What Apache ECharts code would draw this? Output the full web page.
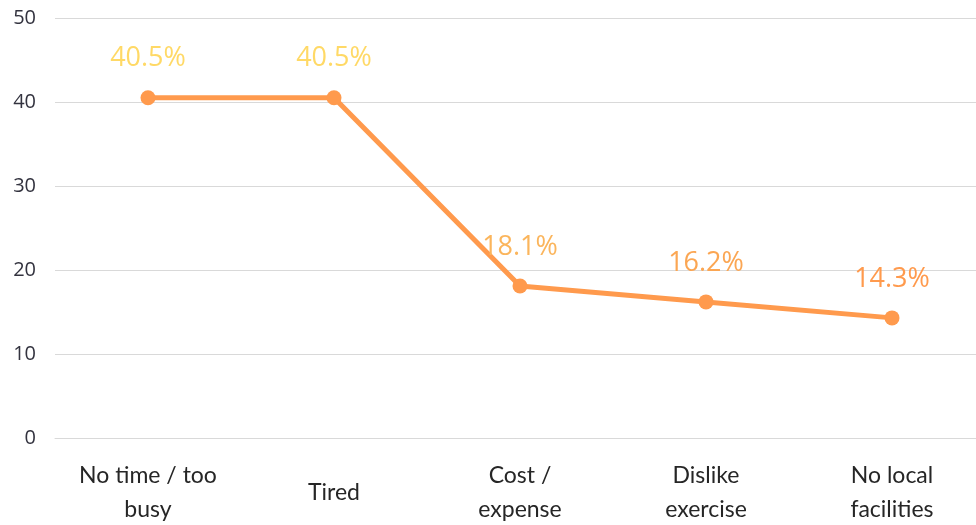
<!DOCTYPE html>
<html>
<head>
<meta charset="utf-8">
<script src="https://cdn.jsdelivr.net/npm/echarts@6/dist/echarts.min.js"></script>
<style>html,body{margin:0;padding:0;background:#fff}#c{width:976px;height:525px}</style>
</head>
<body>
<div id="c"></div>
<script>
const categories = ['No time / too\nbusy', 'Tired', 'Cost /\nexpense', 'Dislike\nexercise', 'No local\nfacilities'];
const values = [40.5, 40.5, 18.1, 16.2, 14.3];
const labelColors = ['#FFD966', '#FFD966', '#FBB55C', '#FBA653', '#FF9A4D'];
const yTicks = { min: 0, max: 50, interval: 10 };

const chart = echarts.init(document.getElementById('c'), null, { renderer: 'canvas' });
chart.setOption({
  backgroundColor: '#ffffff',
  animation: false,
  grid: { left: 55, width: 930, top: 18, height: 420, containLabel: false, outerBoundsMode: 'none' },
  xAxis: {
    type: 'category',
    data: categories,
    boundaryGap: true,
    axisLine: { show: true, lineStyle: { color: '#d9d9d9', width: 1 } },
    axisTick: { show: false },
    axisLabel: {
      interval: 0, color: '#262626', fontSize: 23,
      fontFamily: 'Lato, "Open Sans", sans-serif',
      lineHeight: 34, verticalAlign: 'middle', margin: 55
    }
  },
  yAxis: {
    type: 'value', min: yTicks.min, max: yTicks.max, interval: yTicks.interval,
    axisLine: { show: false }, axisTick: { show: false },
    splitLine: { lineStyle: { color: '#d9d9d9', width: 1 } },
    axisLabel: { color: '#33333f', fontSize: 20, fontFamily: '"Open Sans", sans-serif', margin: 19 }
  },
  series: [{
    type: 'line',
    data: values.map((v, i) => ({ value: v, label: { color: labelColors[i] } })),
    symbol: 'circle', symbolSize: 15,
    lineStyle: { color: '#FF9A4D', width: 5 },
    itemStyle: { color: '#FF9A4D' },
    label: {
      show: true, position: 'top', distance: 18,
      formatter: p => p.value.toFixed(1) + '%',
      fontSize: 27, fontFamily: '"Open Sans", sans-serif'
    }
  }]
});
</script>
</body>
</html>
